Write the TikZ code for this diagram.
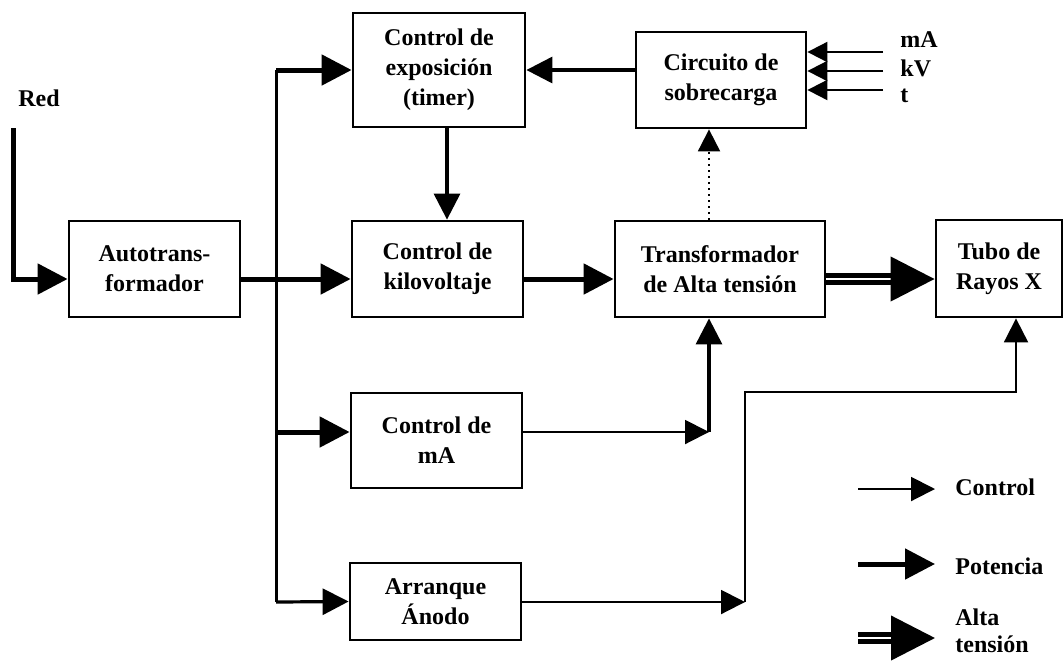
\documentclass[tikz,border=0pt]{standalone}
\usepackage{fontspec}
\setmainfont{Liberation Serif}
\usetikzlibrary{arrows.meta}
\begin{document}
\begin{tikzpicture}[x=0.5pt,y=-0.5pt,
  box/.style={draw,line width=1.4pt,align=center,inner sep=0pt,font=\fontsize{12}{15}\selectfont\bfseries},
  lbl/.style={align=left,inner sep=0pt,font=\fontsize{12}{15}\selectfont\bfseries},
  pw/.style={line width=2.5pt,-{Triangle[length=15pt,width=15pt]}},
  md/.style={line width=1.6pt,-{Triangle[length=13pt,width=13pt]}},
  ct/.style={line width=1pt,-{Triangle[length=12pt,width=12pt]}},
  inp/.style={line width=1pt,-{Triangle[length=10pt,width=10pt]}},
  bus/.style={line width=1.5pt},
  hv/.style={double,line width=2.1pt,double distance=1.4pt,-{Triangle[length=22pt,width=22pt]}},
  dot/.style={line width=1pt,dotted,-{Triangle[length=11pt,width=11pt]}}]
\useasboundingbox (0,0) rectangle (1063,660);
% boxes
\node[box,minimum width=85.5pt,minimum height=48pt] (auto) at (154.5,269) {Autotrans-\\formador};
\node[box,minimum width=86pt,minimum height=57pt] (expo) at (439,70) {Control de\\exposición\\(timer)};
\node[box,minimum width=85pt,minimum height=48pt] (circ) at (721,80) {Circuito de\\sobrecarga};
\node[box,minimum width=85.5pt,minimum height=48pt] (kv) at (437.5,269) {Control de\\kilovoltaje};
\node[box,minimum width=105pt,minimum height=48pt] (trafo) at (720,269) {Transformador\\de Alta tensión};
\node[box,minimum width=63pt,minimum height=48.5pt] (tubo) at (999,268.5) {Tubo de\\Rayos X};
\node[box,minimum width=85.5pt,minimum height=47.5pt] (mA) at (436.5,440.5) {Control de\\mA};
\node[box,minimum width=85.5pt,minimum height=38.5pt] (arr) at (435.5,601.5) {Arranque\\Ánodo};
% labels
\node[lbl,anchor=west] (red) at (18,98) {Red};
\node[lbl,anchor=west] (lma) at (900,40) {mA};
\node[lbl,anchor=west] (lkv) at (900,68) {kV};
\node[lbl,anchor=west] (lt) at (900,96) {t};
% coordinates
\coordinate (redtop) at (13,128);
\coordinate (bt) at (276,70);
\coordinate (bm) at (276,432);
\coordinate (bb) at (276,602);
\coordinate (c447) at (447,0);
\coordinate (c709) at (709,0);
\coordinate (cmA) at (709,432);
\coordinate (ca) at (745,602);
\coordinate (cb) at (745,392);
\coordinate (cc) at (1016,392);
\coordinate (in1) at (883,52);
\coordinate (in2) at (883,71);
\coordinate (in3) at (883,90);
% connectors
\draw[pw] (redtop) |- ([yshift=-5pt]auto.west);
\draw[pw] ([yshift=-5pt]auto.east) -- ([yshift=-5pt]kv.west);
\draw[bus] (bb) -- (bt);
\draw[pw] (bt) -- (expo.west);
\draw[pw] (bm) -- (mA.west |- bm);
\draw[md] (bb) -- (arr.west);
\draw[md] (circ.west |- expo.west) -- (expo.east);
\draw[md] (expo.south -| c447) -- (kv.north -| c447);
\draw[pw] ([yshift=-5pt]kv.east) -- ([yshift=-5pt]trafo.west);
\draw[hv] ([yshift=-5pt]trafo.east) -- ([yshift=-5.25pt]tubo.west);
\draw[dot] (trafo.north -| c709) -- (circ.south -| c709);
\draw[ct] (mA.east |- cmA) -- (cmA);
\draw[md] (cmA) -- (trafo.south -| cmA);
\draw[ct] (arr.east |- ca) -- (ca);
\draw[ct] (ca) -- (cb) -- (cc) -- (tubo.south -| cc);
\draw[inp] (in1) -- (circ.east |- in1);
\draw[inp] (in2) -- (circ.east |- in2);
\draw[inp] (in3) -- (circ.east |- in3);
% legend
\coordinate (l1a) at (858,489); \coordinate (l1b) at (935,489);
\coordinate (l2a) at (858,564); \coordinate (l2b) at (935,564);
\coordinate (l3a) at (858,638); \coordinate (l3b) at (935,638);
\draw[ct] (l1a) -- (l1b);
\draw[pw] (l2a) -- (l2b);
\draw[hv] (l3a) -- (l3b);
\node[lbl,anchor=west] (lctrl) at (955,487) {Control};
\node[lbl,anchor=west] (lpot) at (955,566) {Potencia};
\node[lbl,anchor=west,font=\fontsize{12}{13.5}\selectfont\bfseries] (lalta) at (955,631) {Alta\\tensión};
\end{tikzpicture}
\end{document}
